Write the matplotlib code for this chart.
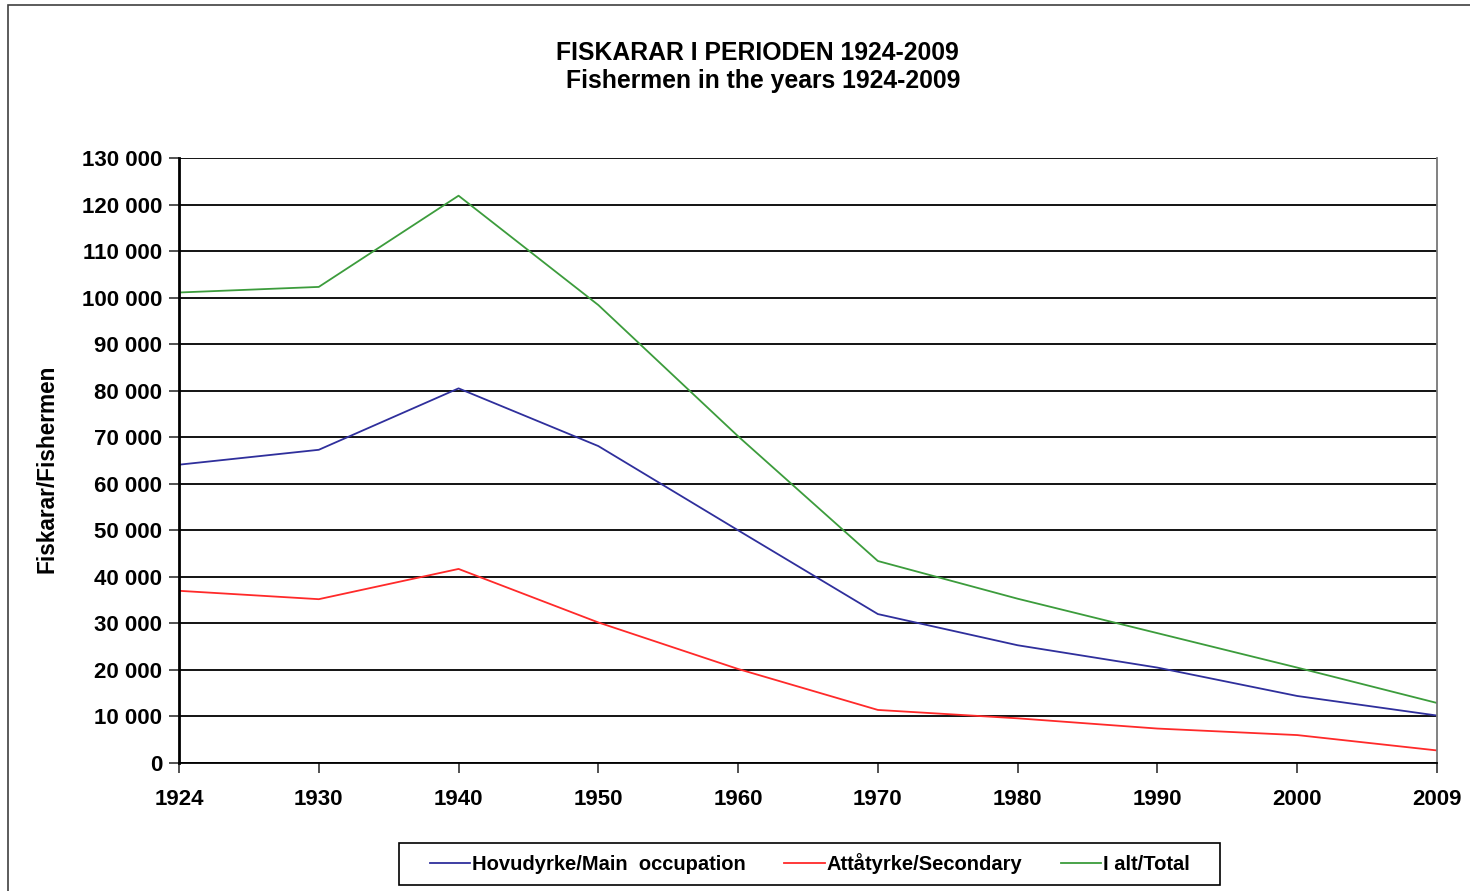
import matplotlib.pyplot as plt
from matplotlib.patches import Rectangle
from matplotlib.ticker import FuncFormatter

years = ['1924', '1930', '1940', '1950', '1960', '1970', '1980', '1990', '2000', '2009']
main_occ = [64100, 67300, 80500, 68100, 50000, 32000, 25300, 20500, 14400, 10200]
secondary = [37000, 35200, 41700, 30200, 20200, 11400, 9600, 7400, 6000, 2700]
total = [101100, 102300, 121900, 98400, 70200, 43400, 35300, 27900, 20500, 12900]

plt.rcParams['font.family'] = ['Liberation Sans', 'DejaVu Sans']
plt.rcParams['font.weight'] = 'bold'

W, H = 1470, 891
fig = plt.figure(figsize=(W / 100, H / 100), dpi=100)
ax = fig.add_axes([179 / W, 1 - 763 / H, (1437 - 179) / W, (763 - 158) / H])

# frame round the whole chart
fig.patches.append(Rectangle((8 / W, -0.1), 1.2, 1 - 5 / H + 0.1,
                             transform=fig.transFigure, fill=False,
                             edgecolor='#404040', linewidth=1.2))

x = range(len(years))
ax.plot(x, main_occ, color='#2f2f9c', lw=1.3, label='Hovudyrke/Main  occupation')
ax.plot(x, secondary, color='#ff2a2a', lw=1.3, label='Attåtyrke/Secondary')
ax.plot(x, total, color='#3c9c3c', lw=1.3, label='I alt/Total')

ax.set_xlim(0, len(years) - 1)
ax.set_ylim(0, 130000)
ax.set_yticks(range(0, 130001, 10000))
ax.yaxis.set_major_formatter(FuncFormatter(lambda v, p: f'{int(v):,}'.replace(',', ' ')))
ax.set_xticks(list(x))
ax.set_xticklabels(years)
ax.grid(axis='y', color='black', lw=1.3)
ax.set_axisbelow(True)

ax.tick_params(axis='both', labelsize=16, length=7, width=1.2, color='#333333')
ax.tick_params(axis='x', pad=12)
ax.tick_params(axis='y', pad=5)
for lab in ax.get_xticklabels() + ax.get_yticklabels():
    lab.set_fontweight('bold')

ax.spines['left'].set_linewidth(2)
ax.spines['bottom'].set_linewidth(1.3)
ax.spines['top'].set_visible(False)
ax.spines['right'].set_color('#777777')
ax.spines['right'].set_linewidth(1.3)

ax.set_ylabel('Fiskarar/Fishermen', fontsize=16.3, fontweight='bold')
ax.yaxis.set_label_coords(-(179 - 59) / (1437 - 179), (763 - 469) / (763 - 158))

fig.text(757 / W, 1 - 53 / H, 'FISKARAR I PERIODEN 1924-2009', ha='center', va='center',
         fontsize=17.8, fontweight='bold')
fig.text(763 / W, 1 - 81 / H, 'Fishermen in the years 1924-2009', ha='center', va='center',
         fontsize=17.8, fontweight='bold')

leg = fig.legend(loc='center', bbox_to_anchor=(810 / W, 1 - 864 / H), ncol=3,
                 frameon=False, handlelength=2.0, handletextpad=0.1, columnspacing=1.9,
                 borderpad=0.45, prop={'weight': 'bold', 'size': 14.5})
# legend box drawn separately, it is wider than the entries
fig.patches.append(Rectangle((399 / W, 1 - 885 / H), (1220 - 399) / W, 42 / H,
                             transform=fig.transFigure, fill=False,
                             edgecolor='black', linewidth=1.2))

fig.savefig('out.png', dpi=100)
